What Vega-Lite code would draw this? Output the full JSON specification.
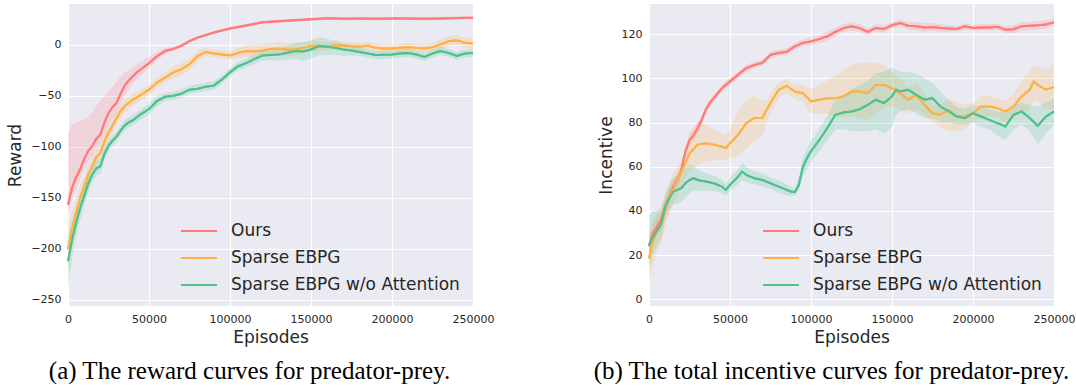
{
"$schema": "https://vega.github.io/schema/vega-lite/v6.json",
"padding": {"left": 6, "top": 4, "right": 0, "bottom": 0},
"background": "white",
"bounds": "flush",
"spacing": 176,
"config": {
  "view": {"fill": "#EAEAF2", "stroke": null},
  "axis": {"grid": true, "gridColor": "#FFFFFF", "gridWidth": 1.2, "domain": false, "ticks": false, "labelFont": "DejaVu Sans", "labelFontSize": 11, "labelColor": "#262626", "titleFont": "DejaVu Sans", "titleFontSize": 17, "titleFontWeight": "normal", "titleColor": "#262626", "labelPadding": 7}
},
"resolve": {"scale": {"color": "independent"}},
"datasets": {
"reward": [
{"s":"Ours","x":0,"m":-157,"lo":-168,"hi":-88},
{"s":"Ours","x":2500,"m":-140,"lo":-152,"hi":-78},
{"s":"Ours","x":5000,"m":-130,"lo":-141,"hi":-76},
{"s":"Ours","x":7500,"m":-122,"lo":-132,"hi":-75},
{"s":"Ours","x":10000,"m":-112,"lo":-122,"hi":-73},
{"s":"Ours","x":12500,"m":-104,"lo":-115,"hi":-70},
{"s":"Ours","x":15000,"m":-99,"lo":-109,"hi":-66},
{"s":"Ours","x":17500,"m":-92,"lo":-102,"hi":-60},
{"s":"Ours","x":20000,"m":-88,"lo":-97,"hi":-55},
{"s":"Ours","x":22500,"m":-76,"lo":-88,"hi":-50},
{"s":"Ours","x":25000,"m":-67,"lo":-78,"hi":-46},
{"s":"Ours","x":27500,"m":-61,"lo":-72,"hi":-41},
{"s":"Ours","x":30000,"m":-57,"lo":-67,"hi":-36},
{"s":"Ours","x":32500,"m":-48,"lo":-58,"hi":-31},
{"s":"Ours","x":35000,"m":-40,"lo":-50,"hi":-27},
{"s":"Ours","x":37500,"m":-35,"lo":-44,"hi":-25},
{"s":"Ours","x":40000,"m":-31,"lo":-38,"hi":-22},
{"s":"Ours","x":42500,"m":-27,"lo":-34,"hi":-19},
{"s":"Ours","x":45000,"m":-24,"lo":-30,"hi":-17},
{"s":"Ours","x":47500,"m":-21,"lo":-26,"hi":-14},
{"s":"Ours","x":50000,"m":-18,"lo":-23,"hi":-12},
{"s":"Ours","x":55000,"m":-11,"lo":-15,"hi":-7},
{"s":"Ours","x":60000,"m":-6,"lo":-9,"hi":-3},
{"s":"Ours","x":65000,"m":-4,"lo":-6,"hi":-2},
{"s":"Ours","x":70000,"m":-1,"lo":-3,"hi":1},
{"s":"Ours","x":75000,"m":3.6,"lo":2,"hi":5.5},
{"s":"Ours","x":80000,"m":7,"lo":5.5,"hi":8.5},
{"s":"Ours","x":85000,"m":9.5,"lo":8,"hi":11},
{"s":"Ours","x":90000,"m":12,"lo":10.5,"hi":13.5},
{"s":"Ours","x":95000,"m":14,"lo":12.5,"hi":15.5},
{"s":"Ours","x":100000,"m":16,"lo":14.5,"hi":17.5},
{"s":"Ours","x":110000,"m":19,"lo":17.5,"hi":20.5},
{"s":"Ours","x":120000,"m":22,"lo":20.5,"hi":23.5},
{"s":"Ours","x":130000,"m":23,"lo":21.5,"hi":24.5},
{"s":"Ours","x":140000,"m":24,"lo":22.5,"hi":25.5},
{"s":"Ours","x":150000,"m":25,"lo":23.5,"hi":26.5},
{"s":"Ours","x":160000,"m":26,"lo":24.5,"hi":27.5},
{"s":"Ours","x":170000,"m":25.5,"lo":24,"hi":27},
{"s":"Ours","x":180000,"m":25.7,"lo":24.2,"hi":27.2},
{"s":"Ours","x":190000,"m":25.6,"lo":24.1,"hi":27.1},
{"s":"Ours","x":200000,"m":25.8,"lo":24.3,"hi":27.3},
{"s":"Ours","x":210000,"m":25.7,"lo":24.2,"hi":27.2},
{"s":"Ours","x":220000,"m":25.5,"lo":24,"hi":27},
{"s":"Ours","x":230000,"m":25.9,"lo":24.4,"hi":27.4},
{"s":"Ours","x":240000,"m":26.2,"lo":24.7,"hi":27.7},
{"s":"Ours","x":250000,"m":26.5,"lo":25,"hi":28},
{"s":"Sparse EBPG","x":0,"m":-200,"lo":-225,"hi":-175},
{"s":"Sparse EBPG","x":2500,"m":-181,"lo":-199,"hi":-163},
{"s":"Sparse EBPG","x":5000,"m":-165,"lo":-179,"hi":-151},
{"s":"Sparse EBPG","x":7500,"m":-150,"lo":-162,"hi":-138},
{"s":"Sparse EBPG","x":10000,"m":-139,"lo":-149,"hi":-129},
{"s":"Sparse EBPG","x":12500,"m":-127,"lo":-136,"hi":-118},
{"s":"Sparse EBPG","x":15000,"m":-119,"lo":-128,"hi":-110},
{"s":"Sparse EBPG","x":17500,"m":-110,"lo":-118,"hi":-102},
{"s":"Sparse EBPG","x":20000,"m":-106,"lo":-114,"hi":-98},
{"s":"Sparse EBPG","x":22500,"m":-95,"lo":-103,"hi":-87},
{"s":"Sparse EBPG","x":25000,"m":-86,"lo":-93,"hi":-79},
{"s":"Sparse EBPG","x":27500,"m":-79,"lo":-86,"hi":-72},
{"s":"Sparse EBPG","x":30000,"m":-72,"lo":-79,"hi":-65},
{"s":"Sparse EBPG","x":32500,"m":-65,"lo":-71,"hi":-59},
{"s":"Sparse EBPG","x":35000,"m":-60,"lo":-66,"hi":-54},
{"s":"Sparse EBPG","x":37500,"m":-57,"lo":-63,"hi":-51},
{"s":"Sparse EBPG","x":40000,"m":-54,"lo":-60,"hi":-48},
{"s":"Sparse EBPG","x":45000,"m":-49,"lo":-54,"hi":-44},
{"s":"Sparse EBPG","x":50000,"m":-44,"lo":-49,"hi":-39},
{"s":"Sparse EBPG","x":55000,"m":-37,"lo":-42,"hi":-32},
{"s":"Sparse EBPG","x":60000,"m":-32,"lo":-37,"hi":-27},
{"s":"Sparse EBPG","x":65000,"m":-27,"lo":-33,"hi":-21},
{"s":"Sparse EBPG","x":70000,"m":-24,"lo":-30,"hi":-18},
{"s":"Sparse EBPG","x":75000,"m":-19,"lo":-25,"hi":-13},
{"s":"Sparse EBPG","x":80000,"m":-11,"lo":-16,"hi":-6},
{"s":"Sparse EBPG","x":85000,"m":-7,"lo":-11,"hi":-3},
{"s":"Sparse EBPG","x":90000,"m":-8.5,"lo":-12.5,"hi":-4.5},
{"s":"Sparse EBPG","x":95000,"m":-9.5,"lo":-13.5,"hi":-5.5},
{"s":"Sparse EBPG","x":100000,"m":-10.5,"lo":-14.5,"hi":-6.5},
{"s":"Sparse EBPG","x":105000,"m":-8,"lo":-13,"hi":-3},
{"s":"Sparse EBPG","x":110000,"m":-6,"lo":-12,"hi":0},
{"s":"Sparse EBPG","x":115000,"m":-6.5,"lo":-12.5,"hi":-0.5},
{"s":"Sparse EBPG","x":120000,"m":-5.5,"lo":-11.5,"hi":0.5},
{"s":"Sparse EBPG","x":125000,"m":-4,"lo":-10,"hi":2},
{"s":"Sparse EBPG","x":130000,"m":-3.6,"lo":-9.6,"hi":2.4},
{"s":"Sparse EBPG","x":135000,"m":-4.8,"lo":-10.8,"hi":1.2},
{"s":"Sparse EBPG","x":140000,"m":-4.5,"lo":-10.5,"hi":1.5},
{"s":"Sparse EBPG","x":145000,"m":-3,"lo":-8,"hi":2},
{"s":"Sparse EBPG","x":150000,"m":-1.3,"lo":-6.3,"hi":3.7},
{"s":"Sparse EBPG","x":155000,"m":-1,"lo":-6,"hi":4},
{"s":"Sparse EBPG","x":160000,"m":-1.6,"lo":-5.6,"hi":2.4},
{"s":"Sparse EBPG","x":165000,"m":-0.5,"lo":-4.5,"hi":3.5},
{"s":"Sparse EBPG","x":170000,"m":-0.7,"lo":-4.7,"hi":3.3},
{"s":"Sparse EBPG","x":175000,"m":-1.5,"lo":-5.5,"hi":2.5},
{"s":"Sparse EBPG","x":180000,"m":-2,"lo":-6,"hi":2},
{"s":"Sparse EBPG","x":185000,"m":-1,"lo":-5,"hi":3},
{"s":"Sparse EBPG","x":190000,"m":-3,"lo":-7,"hi":1},
{"s":"Sparse EBPG","x":195000,"m":-3.5,"lo":-7.5,"hi":0.5},
{"s":"Sparse EBPG","x":200000,"m":-3.6,"lo":-7.6,"hi":0.4},
{"s":"Sparse EBPG","x":205000,"m":-3,"lo":-7,"hi":1},
{"s":"Sparse EBPG","x":210000,"m":-2.3,"lo":-6.3,"hi":1.7},
{"s":"Sparse EBPG","x":215000,"m":-3,"lo":-7,"hi":1},
{"s":"Sparse EBPG","x":220000,"m":-3.6,"lo":-7.6,"hi":0.4},
{"s":"Sparse EBPG","x":225000,"m":-2.5,"lo":-6.5,"hi":1.5},
{"s":"Sparse EBPG","x":230000,"m":0.3,"lo":-4.7,"hi":5.3},
{"s":"Sparse EBPG","x":235000,"m":3.6,"lo":-1.4,"hi":8.6},
{"s":"Sparse EBPG","x":240000,"m":4.5,"lo":-0.5,"hi":9.5},
{"s":"Sparse EBPG","x":245000,"m":2,"lo":-3,"hi":7},
{"s":"Sparse EBPG","x":250000,"m":1.3,"lo":-4.7,"hi":7.3},
{"s":"Sparse EBPG w/o Attention","x":0,"m":-212,"lo":-237,"hi":-187},
{"s":"Sparse EBPG w/o Attention","x":2500,"m":-191,"lo":-209,"hi":-173},
{"s":"Sparse EBPG w/o Attention","x":5000,"m":-175,"lo":-189,"hi":-161},
{"s":"Sparse EBPG w/o Attention","x":7500,"m":-160,"lo":-172,"hi":-148},
{"s":"Sparse EBPG w/o Attention","x":10000,"m":-148,"lo":-158,"hi":-138},
{"s":"Sparse EBPG w/o Attention","x":12500,"m":-136,"lo":-145,"hi":-127},
{"s":"Sparse EBPG w/o Attention","x":15000,"m":-127,"lo":-135,"hi":-119},
{"s":"Sparse EBPG w/o Attention","x":17500,"m":-121,"lo":-128,"hi":-114},
{"s":"Sparse EBPG w/o Attention","x":20000,"m":-119,"lo":-126,"hi":-112},
{"s":"Sparse EBPG w/o Attention","x":22500,"m":-107,"lo":-113,"hi":-101},
{"s":"Sparse EBPG w/o Attention","x":25000,"m":-99,"lo":-105,"hi":-93},
{"s":"Sparse EBPG w/o Attention","x":27500,"m":-94,"lo":-99,"hi":-89},
{"s":"Sparse EBPG w/o Attention","x":30000,"m":-90,"lo":-95,"hi":-85},
{"s":"Sparse EBPG w/o Attention","x":32500,"m":-84,"lo":-89,"hi":-79},
{"s":"Sparse EBPG w/o Attention","x":35000,"m":-79,"lo":-84,"hi":-74},
{"s":"Sparse EBPG w/o Attention","x":37500,"m":-76,"lo":-81,"hi":-71},
{"s":"Sparse EBPG w/o Attention","x":40000,"m":-74,"lo":-79,"hi":-69},
{"s":"Sparse EBPG w/o Attention","x":45000,"m":-68,"lo":-73,"hi":-63},
{"s":"Sparse EBPG w/o Attention","x":50000,"m":-63,"lo":-68,"hi":-58},
{"s":"Sparse EBPG w/o Attention","x":55000,"m":-55,"lo":-60,"hi":-50},
{"s":"Sparse EBPG w/o Attention","x":60000,"m":-51,"lo":-55,"hi":-47},
{"s":"Sparse EBPG w/o Attention","x":65000,"m":-50,"lo":-54,"hi":-46},
{"s":"Sparse EBPG w/o Attention","x":70000,"m":-48,"lo":-52,"hi":-44},
{"s":"Sparse EBPG w/o Attention","x":75000,"m":-44,"lo":-48,"hi":-40},
{"s":"Sparse EBPG w/o Attention","x":80000,"m":-43,"lo":-47,"hi":-39},
{"s":"Sparse EBPG w/o Attention","x":85000,"m":-41,"lo":-45,"hi":-37},
{"s":"Sparse EBPG w/o Attention","x":90000,"m":-40,"lo":-44,"hi":-36},
{"s":"Sparse EBPG w/o Attention","x":95000,"m":-34,"lo":-38,"hi":-30},
{"s":"Sparse EBPG w/o Attention","x":100000,"m":-27,"lo":-31,"hi":-23},
{"s":"Sparse EBPG w/o Attention","x":105000,"m":-21,"lo":-25,"hi":-17},
{"s":"Sparse EBPG w/o Attention","x":110000,"m":-18,"lo":-22,"hi":-14},
{"s":"Sparse EBPG w/o Attention","x":115000,"m":-14,"lo":-19,"hi":-9},
{"s":"Sparse EBPG w/o Attention","x":120000,"m":-10.5,"lo":-15.5,"hi":-5.5},
{"s":"Sparse EBPG w/o Attention","x":125000,"m":-10,"lo":-15,"hi":-5},
{"s":"Sparse EBPG w/o Attention","x":130000,"m":-9.5,"lo":-15.5,"hi":-3.5},
{"s":"Sparse EBPG w/o Attention","x":135000,"m":-8,"lo":-15,"hi":-1},
{"s":"Sparse EBPG w/o Attention","x":140000,"m":-6,"lo":-14,"hi":2},
{"s":"Sparse EBPG w/o Attention","x":145000,"m":-6.5,"lo":-15.5,"hi":2.5},
{"s":"Sparse EBPG w/o Attention","x":150000,"m":-4.6,"lo":-13.6,"hi":4.4},
{"s":"Sparse EBPG w/o Attention","x":155000,"m":-1.3,"lo":-10.3,"hi":7.7},
{"s":"Sparse EBPG w/o Attention","x":160000,"m":-2,"lo":-10,"hi":6},
{"s":"Sparse EBPG w/o Attention","x":165000,"m":-3,"lo":-10,"hi":4},
{"s":"Sparse EBPG w/o Attention","x":170000,"m":-4.6,"lo":-10.6,"hi":1.4},
{"s":"Sparse EBPG w/o Attention","x":175000,"m":-5.5,"lo":-10.5,"hi":-0.5},
{"s":"Sparse EBPG w/o Attention","x":180000,"m":-7,"lo":-11,"hi":-3},
{"s":"Sparse EBPG w/o Attention","x":185000,"m":-8.5,"lo":-12.5,"hi":-4.5},
{"s":"Sparse EBPG w/o Attention","x":190000,"m":-10,"lo":-14,"hi":-6},
{"s":"Sparse EBPG w/o Attention","x":195000,"m":-9.8,"lo":-13.8,"hi":-5.8},
{"s":"Sparse EBPG w/o Attention","x":200000,"m":-9.5,"lo":-13.5,"hi":-5.5},
{"s":"Sparse EBPG w/o Attention","x":205000,"m":-8.5,"lo":-12.5,"hi":-4.5},
{"s":"Sparse EBPG w/o Attention","x":210000,"m":-8,"lo":-12,"hi":-4},
{"s":"Sparse EBPG w/o Attention","x":215000,"m":-9.5,"lo":-13.5,"hi":-5.5},
{"s":"Sparse EBPG w/o Attention","x":220000,"m":-11.8,"lo":-15.8,"hi":-7.8},
{"s":"Sparse EBPG w/o Attention","x":225000,"m":-8.5,"lo":-12.5,"hi":-4.5},
{"s":"Sparse EBPG w/o Attention","x":230000,"m":-6,"lo":-10,"hi":-2},
{"s":"Sparse EBPG w/o Attention","x":235000,"m":-8,"lo":-12,"hi":-4},
{"s":"Sparse EBPG w/o Attention","x":240000,"m":-11,"lo":-15,"hi":-7},
{"s":"Sparse EBPG w/o Attention","x":245000,"m":-8.5,"lo":-12.5,"hi":-4.5},
{"s":"Sparse EBPG w/o Attention","x":250000,"m":-8,"lo":-12,"hi":-4}
],
"incentive": [
{"s":"Ours","x":0,"m":24,"lo":19,"hi":29},
{"s":"Ours","x":2500,"m":30,"lo":25,"hi":34},
{"s":"Ours","x":5000,"m":33,"lo":29,"hi":37},
{"s":"Ours","x":7500,"m":36,"lo":32,"hi":40},
{"s":"Ours","x":10000,"m":42,"lo":38,"hi":46},
{"s":"Ours","x":12500,"m":46.5,"lo":43,"hi":50},
{"s":"Ours","x":15000,"m":51,"lo":48,"hi":54},
{"s":"Ours","x":17500,"m":54,"lo":51,"hi":57},
{"s":"Ours","x":20000,"m":58.6,"lo":56,"hi":61},
{"s":"Ours","x":22500,"m":67,"lo":64.5,"hi":69.5},
{"s":"Ours","x":25000,"m":72,"lo":69.5,"hi":74.5},
{"s":"Ours","x":27500,"m":74,"lo":71.5,"hi":76.5},
{"s":"Ours","x":30000,"m":77.4,"lo":75,"hi":80},
{"s":"Ours","x":32500,"m":81,"lo":79,"hi":83},
{"s":"Ours","x":35000,"m":85.7,"lo":84,"hi":87.5},
{"s":"Ours","x":37500,"m":88.8,"lo":87,"hi":90.5},
{"s":"Ours","x":40000,"m":91,"lo":89.5,"hi":92.5},
{"s":"Ours","x":45000,"m":95.5,"lo":94,"hi":97},
{"s":"Ours","x":50000,"m":98.6,"lo":97,"hi":100},
{"s":"Ours","x":55000,"m":101.6,"lo":100,"hi":103},
{"s":"Ours","x":60000,"m":104.6,"lo":103,"hi":106},
{"s":"Ours","x":65000,"m":106,"lo":104.5,"hi":107.5},
{"s":"Ours","x":70000,"m":107,"lo":105.5,"hi":108.5},
{"s":"Ours","x":75000,"m":110.6,"lo":109,"hi":112},
{"s":"Ours","x":80000,"m":111.4,"lo":110,"hi":113},
{"s":"Ours","x":85000,"m":112,"lo":110.5,"hi":113.5},
{"s":"Ours","x":90000,"m":114.4,"lo":113,"hi":116},
{"s":"Ours","x":95000,"m":116,"lo":114.5,"hi":117.5},
{"s":"Ours","x":100000,"m":116.7,"lo":115,"hi":118.5},
{"s":"Ours","x":105000,"m":117.7,"lo":116,"hi":119.5},
{"s":"Ours","x":110000,"m":119,"lo":117,"hi":121},
{"s":"Ours","x":115000,"m":121,"lo":119,"hi":123},
{"s":"Ours","x":120000,"m":122.7,"lo":121,"hi":124.5},
{"s":"Ours","x":125000,"m":123.5,"lo":121.5,"hi":125.5},
{"s":"Ours","x":130000,"m":122.7,"lo":121,"hi":124.5},
{"s":"Ours","x":135000,"m":121,"lo":119.5,"hi":122.5},
{"s":"Ours","x":140000,"m":122.7,"lo":121,"hi":124.5},
{"s":"Ours","x":145000,"m":122.3,"lo":120.5,"hi":124},
{"s":"Ours","x":150000,"m":124,"lo":122.5,"hi":125.5},
{"s":"Ours","x":155000,"m":125,"lo":123.5,"hi":126.5},
{"s":"Ours","x":160000,"m":123.8,"lo":122,"hi":125.5},
{"s":"Ours","x":165000,"m":123.5,"lo":121.5,"hi":125.5},
{"s":"Ours","x":170000,"m":123,"lo":121,"hi":125},
{"s":"Ours","x":175000,"m":123.2,"lo":121.5,"hi":125},
{"s":"Ours","x":180000,"m":122.7,"lo":121,"hi":124.5},
{"s":"Ours","x":185000,"m":122.5,"lo":121,"hi":124},
{"s":"Ours","x":190000,"m":122.3,"lo":121,"hi":123.5},
{"s":"Ours","x":195000,"m":123.5,"lo":122,"hi":125},
{"s":"Ours","x":200000,"m":122.7,"lo":121.5,"hi":124},
{"s":"Ours","x":205000,"m":123,"lo":121.5,"hi":124.5},
{"s":"Ours","x":210000,"m":123,"lo":121.5,"hi":124.5},
{"s":"Ours","x":215000,"m":123.3,"lo":122,"hi":124.5},
{"s":"Ours","x":220000,"m":122,"lo":120.5,"hi":123.5},
{"s":"Ours","x":225000,"m":122.2,"lo":120.5,"hi":124},
{"s":"Ours","x":230000,"m":123.5,"lo":121.5,"hi":125.5},
{"s":"Ours","x":235000,"m":123.8,"lo":122,"hi":125.5},
{"s":"Ours","x":240000,"m":124,"lo":122,"hi":126},
{"s":"Ours","x":245000,"m":124.3,"lo":122.5,"hi":126},
{"s":"Ours","x":250000,"m":125.3,"lo":123.5,"hi":127},
{"s":"Sparse EBPG","x":0,"m":18.5,"lo":8,"hi":30},
{"s":"Sparse EBPG","x":2500,"m":27,"lo":15,"hi":36},
{"s":"Sparse EBPG","x":5000,"m":31,"lo":22,"hi":40},
{"s":"Sparse EBPG","x":7500,"m":34,"lo":26,"hi":42},
{"s":"Sparse EBPG","x":10000,"m":40,"lo":32,"hi":47},
{"s":"Sparse EBPG","x":12500,"m":46.5,"lo":39,"hi":53},
{"s":"Sparse EBPG","x":15000,"m":50,"lo":43,"hi":57},
{"s":"Sparse EBPG","x":17500,"m":54,"lo":47,"hi":60},
{"s":"Sparse EBPG","x":20000,"m":58,"lo":51,"hi":63},
{"s":"Sparse EBPG","x":22500,"m":61.6,"lo":55,"hi":68},
{"s":"Sparse EBPG","x":25000,"m":66,"lo":58,"hi":75},
{"s":"Sparse EBPG","x":27500,"m":68,"lo":59,"hi":78},
{"s":"Sparse EBPG","x":30000,"m":70,"lo":61,"hi":80},
{"s":"Sparse EBPG","x":35000,"m":70.6,"lo":62,"hi":79},
{"s":"Sparse EBPG","x":40000,"m":70,"lo":63,"hi":77},
{"s":"Sparse EBPG","x":45000,"m":69,"lo":63,"hi":75},
{"s":"Sparse EBPG","x":47500,"m":68.4,"lo":63,"hi":74},
{"s":"Sparse EBPG","x":50000,"m":70.6,"lo":64,"hi":77},
{"s":"Sparse EBPG","x":55000,"m":74.4,"lo":65,"hi":85},
{"s":"Sparse EBPG","x":60000,"m":79.7,"lo":68,"hi":90},
{"s":"Sparse EBPG","x":65000,"m":82,"lo":72,"hi":92},
{"s":"Sparse EBPG","x":70000,"m":82,"lo":74,"hi":90},
{"s":"Sparse EBPG","x":72500,"m":85.7,"lo":80,"hi":90},
{"s":"Sparse EBPG","x":75000,"m":88.8,"lo":84,"hi":93},
{"s":"Sparse EBPG","x":80000,"m":94.8,"lo":91,"hi":98},
{"s":"Sparse EBPG","x":85000,"m":96.6,"lo":93,"hi":100},
{"s":"Sparse EBPG","x":90000,"m":94,"lo":91,"hi":97},
{"s":"Sparse EBPG","x":95000,"m":93.3,"lo":89,"hi":97},
{"s":"Sparse EBPG","x":100000,"m":89.5,"lo":84,"hi":95},
{"s":"Sparse EBPG","x":105000,"m":90.3,"lo":84,"hi":97},
{"s":"Sparse EBPG","x":110000,"m":91,"lo":84,"hi":99},
{"s":"Sparse EBPG","x":115000,"m":91,"lo":83,"hi":101},
{"s":"Sparse EBPG","x":120000,"m":91.8,"lo":82,"hi":104},
{"s":"Sparse EBPG","x":125000,"m":94,"lo":83,"hi":106},
{"s":"Sparse EBPG","x":130000,"m":94,"lo":82,"hi":107},
{"s":"Sparse EBPG","x":135000,"m":93.3,"lo":81,"hi":107},
{"s":"Sparse EBPG","x":140000,"m":97,"lo":84,"hi":107},
{"s":"Sparse EBPG","x":145000,"m":97,"lo":87,"hi":106},
{"s":"Sparse EBPG","x":150000,"m":95.5,"lo":87,"hi":103},
{"s":"Sparse EBPG","x":155000,"m":93.3,"lo":86,"hi":100},
{"s":"Sparse EBPG","x":160000,"m":90.3,"lo":84,"hi":96},
{"s":"Sparse EBPG","x":165000,"m":92.5,"lo":86,"hi":98},
{"s":"Sparse EBPG","x":170000,"m":88,"lo":83,"hi":93},
{"s":"Sparse EBPG","x":175000,"m":84.2,"lo":80,"hi":88},
{"s":"Sparse EBPG","x":180000,"m":83.5,"lo":78,"hi":88},
{"s":"Sparse EBPG","x":185000,"m":85.7,"lo":76,"hi":91},
{"s":"Sparse EBPG","x":190000,"m":82.7,"lo":76,"hi":89},
{"s":"Sparse EBPG","x":195000,"m":82.7,"lo":77,"hi":88},
{"s":"Sparse EBPG","x":200000,"m":84.2,"lo":80,"hi":89},
{"s":"Sparse EBPG","x":205000,"m":87.2,"lo":82,"hi":92},
{"s":"Sparse EBPG","x":210000,"m":87.2,"lo":83,"hi":92},
{"s":"Sparse EBPG","x":215000,"m":86.5,"lo":82,"hi":91},
{"s":"Sparse EBPG","x":220000,"m":85,"lo":80,"hi":90},
{"s":"Sparse EBPG","x":225000,"m":87.2,"lo":82,"hi":93},
{"s":"Sparse EBPG","x":230000,"m":91.8,"lo":84,"hi":99},
{"s":"Sparse EBPG","x":235000,"m":94.8,"lo":86,"hi":103},
{"s":"Sparse EBPG","x":237500,"m":98.6,"lo":90,"hi":106},
{"s":"Sparse EBPG","x":240000,"m":97,"lo":89,"hi":105},
{"s":"Sparse EBPG","x":245000,"m":94.8,"lo":86,"hi":104},
{"s":"Sparse EBPG","x":250000,"m":96,"lo":86,"hi":107},
{"s":"Sparse EBPG w/o Attention","x":0,"m":24.6,"lo":14,"hi":38},
{"s":"Sparse EBPG w/o Attention","x":2500,"m":28.4,"lo":20,"hi":40},
{"s":"Sparse EBPG w/o Attention","x":5000,"m":31,"lo":24,"hi":40},
{"s":"Sparse EBPG w/o Attention","x":7500,"m":34,"lo":27,"hi":41},
{"s":"Sparse EBPG w/o Attention","x":10000,"m":42,"lo":36,"hi":48},
{"s":"Sparse EBPG w/o Attention","x":12500,"m":45.7,"lo":40,"hi":52},
{"s":"Sparse EBPG w/o Attention","x":15000,"m":48.8,"lo":43,"hi":55},
{"s":"Sparse EBPG w/o Attention","x":17500,"m":49.5,"lo":43,"hi":56},
{"s":"Sparse EBPG w/o Attention","x":20000,"m":50.3,"lo":44,"hi":58},
{"s":"Sparse EBPG w/o Attention","x":22500,"m":52.5,"lo":46,"hi":60},
{"s":"Sparse EBPG w/o Attention","x":25000,"m":54,"lo":48,"hi":61},
{"s":"Sparse EBPG w/o Attention","x":27500,"m":54.8,"lo":49,"hi":60},
{"s":"Sparse EBPG w/o Attention","x":30000,"m":54,"lo":49,"hi":59},
{"s":"Sparse EBPG w/o Attention","x":35000,"m":53.3,"lo":49,"hi":57},
{"s":"Sparse EBPG w/o Attention","x":40000,"m":52.5,"lo":49,"hi":56},
{"s":"Sparse EBPG w/o Attention","x":45000,"m":51,"lo":48,"hi":54},
{"s":"Sparse EBPG w/o Attention","x":47500,"m":49.5,"lo":47,"hi":52},
{"s":"Sparse EBPG w/o Attention","x":50000,"m":51.8,"lo":49,"hi":55},
{"s":"Sparse EBPG w/o Attention","x":55000,"m":55.5,"lo":52,"hi":59},
{"s":"Sparse EBPG w/o Attention","x":57500,"m":57.8,"lo":54,"hi":62},
{"s":"Sparse EBPG w/o Attention","x":60000,"m":56.3,"lo":53,"hi":60},
{"s":"Sparse EBPG w/o Attention","x":65000,"m":54.8,"lo":52,"hi":58},
{"s":"Sparse EBPG w/o Attention","x":70000,"m":54,"lo":51,"hi":57},
{"s":"Sparse EBPG w/o Attention","x":75000,"m":52.5,"lo":50,"hi":55},
{"s":"Sparse EBPG w/o Attention","x":80000,"m":51,"lo":48,"hi":54},
{"s":"Sparse EBPG w/o Attention","x":85000,"m":49.5,"lo":47,"hi":52},
{"s":"Sparse EBPG w/o Attention","x":87500,"m":48.8,"lo":47,"hi":51},
{"s":"Sparse EBPG w/o Attention","x":90000,"m":48.5,"lo":47,"hi":50},
{"s":"Sparse EBPG w/o Attention","x":92500,"m":51.8,"lo":49,"hi":55},
{"s":"Sparse EBPG w/o Attention","x":95000,"m":60,"lo":56,"hi":64},
{"s":"Sparse EBPG w/o Attention","x":97500,"m":63.8,"lo":59,"hi":68},
{"s":"Sparse EBPG w/o Attention","x":100000,"m":67,"lo":62,"hi":72},
{"s":"Sparse EBPG w/o Attention","x":105000,"m":72,"lo":67,"hi":77},
{"s":"Sparse EBPG w/o Attention","x":110000,"m":77.4,"lo":72,"hi":83},
{"s":"Sparse EBPG w/o Attention","x":115000,"m":83.5,"lo":77,"hi":90},
{"s":"Sparse EBPG w/o Attention","x":120000,"m":84.5,"lo":77,"hi":92},
{"s":"Sparse EBPG w/o Attention","x":125000,"m":85,"lo":76,"hi":95},
{"s":"Sparse EBPG w/o Attention","x":130000,"m":86,"lo":76,"hi":97},
{"s":"Sparse EBPG w/o Attention","x":135000,"m":88,"lo":76,"hi":99},
{"s":"Sparse EBPG w/o Attention","x":140000,"m":90.3,"lo":77,"hi":102},
{"s":"Sparse EBPG w/o Attention","x":145000,"m":88.8,"lo":75,"hi":103},
{"s":"Sparse EBPG w/o Attention","x":150000,"m":91.8,"lo":78,"hi":105},
{"s":"Sparse EBPG w/o Attention","x":152500,"m":94.8,"lo":83,"hi":104},
{"s":"Sparse EBPG w/o Attention","x":155000,"m":94,"lo":85,"hi":103},
{"s":"Sparse EBPG w/o Attention","x":160000,"m":94.8,"lo":86,"hi":103},
{"s":"Sparse EBPG w/o Attention","x":165000,"m":92.5,"lo":84,"hi":102},
{"s":"Sparse EBPG w/o Attention","x":170000,"m":90.3,"lo":82,"hi":100},
{"s":"Sparse EBPG w/o Attention","x":175000,"m":91,"lo":82,"hi":98},
{"s":"Sparse EBPG w/o Attention","x":180000,"m":87.2,"lo":80,"hi":94},
{"s":"Sparse EBPG w/o Attention","x":185000,"m":85,"lo":80,"hi":90},
{"s":"Sparse EBPG w/o Attention","x":190000,"m":82.7,"lo":79,"hi":87},
{"s":"Sparse EBPG w/o Attention","x":195000,"m":82,"lo":79,"hi":86},
{"s":"Sparse EBPG w/o Attention","x":200000,"m":84.2,"lo":80,"hi":88},
{"s":"Sparse EBPG w/o Attention","x":205000,"m":82.7,"lo":78,"hi":87},
{"s":"Sparse EBPG w/o Attention","x":210000,"m":81.2,"lo":77,"hi":86},
{"s":"Sparse EBPG w/o Attention","x":215000,"m":79.7,"lo":74,"hi":85},
{"s":"Sparse EBPG w/o Attention","x":220000,"m":78.2,"lo":72,"hi":85},
{"s":"Sparse EBPG w/o Attention","x":225000,"m":83.5,"lo":77,"hi":88},
{"s":"Sparse EBPG w/o Attention","x":230000,"m":85,"lo":79,"hi":89},
{"s":"Sparse EBPG w/o Attention","x":235000,"m":82,"lo":76,"hi":88},
{"s":"Sparse EBPG w/o Attention","x":240000,"m":78.5,"lo":70,"hi":87},
{"s":"Sparse EBPG w/o Attention","x":245000,"m":82.7,"lo":75,"hi":89},
{"s":"Sparse EBPG w/o Attention","x":250000,"m":85,"lo":79,"hi":91}
]
},
"hconcat": [
{
  "width": 405, "height": 302,
  "data": {"name": "reward"},
  "title": {"text": "(a) The reward curves for predator-prey.", "orient": "bottom", "font": "Liberation Serif", "fontSize": 25, "fontWeight": "normal", "color": "#000000", "offset": 14, "anchor": "middle", "dx": -21},
  "encoding": {
    "x": {"field": "x", "type": "quantitative", "scale": {"domain": [0, 250000], "nice": false}, "axis": {"title": "Episodes", "values": [0, 50000, 100000, 150000, 200000, 250000], "format": "d", "labelFlush": false, "titlePadding": 5}}
  },
  "layer": [
    {"mark": {"type": "line", "strokeWidth": 2},
     "encoding": {
       "y": {"field": "m", "type": "quantitative", "scale": {"domain": [-256, 40], "nice": false}, "axis": {"title": "Reward", "values": [-250, -200, -150, -100, -50, 0], "titlePadding": 6}},
       "color": {"field": "s", "type": "nominal", "scale": {"domain": ["Ours", "Sparse EBPG", "Sparse EBPG w/o Attention"], "range": ["#FF7B7B", "#FFB145", "#4CC28F"]}, "legend": {"orient": "none", "legendX": 112, "legendY": 208, "title": null, "labelFont": "DejaVu Sans", "labelFontSize": 17, "labelColor": "#262626", "labelLimit": 0, "symbolType": "stroke", "symbolSize": 1296, "symbolStrokeWidth": 2, "labelOffset": 13, "rowPadding": -1.5, "padding": 0}}
     }},
    {"mark": {"type": "area", "opacity": 0.2},
     "encoding": {
       "y": {"field": "lo", "type": "quantitative", "stack": null},
       "y2": {"field": "hi"},
       "color": {"field": "s", "type": "nominal", "legend": null}
     }},
    {"mark": {"type": "line", "strokeWidth": 2},
     "encoding": {
       "y": {"field": "m", "type": "quantitative"},
       "color": {"field": "s", "type": "nominal", "legend": null}
     }}
  ]
},
{
  "width": 405, "height": 302,
  "data": {"name": "incentive"},
  "title": {"text": "(b) The total incentive curves for predator-prey.", "orient": "bottom", "font": "Liberation Serif", "fontSize": 25, "fontWeight": "normal", "color": "#000000", "offset": 14, "anchor": "middle", "dx": -20},
  "encoding": {
    "x": {"field": "x", "type": "quantitative", "scale": {"domain": [0, 250000], "nice": false}, "axis": {"title": "Episodes", "values": [0, 50000, 100000, 150000, 200000, 250000], "format": "d", "labelFlush": false, "titlePadding": 5}}
  },
  "layer": [
    {"mark": {"type": "line", "strokeWidth": 2},
     "encoding": {
       "y": {"field": "m", "type": "quantitative", "scale": {"domain": [-3, 133.6], "nice": false}, "axis": {"title": "Incentive", "values": [0, 20, 40, 60, 80, 100, 120], "titlePadding": 6}},
       "color": {"field": "s", "type": "nominal", "scale": {"domain": ["Ours", "Sparse EBPG", "Sparse EBPG w/o Attention"], "range": ["#FF7B7B", "#FFB145", "#4CC28F"]}, "legend": {"orient": "none", "legendX": 113, "legendY": 208, "title": null, "labelFont": "DejaVu Sans", "labelFontSize": 17, "labelColor": "#262626", "labelLimit": 0, "symbolType": "stroke", "symbolSize": 1296, "symbolStrokeWidth": 2, "labelOffset": 13, "rowPadding": -1.5, "padding": 0}}
     }},
    {"mark": {"type": "area", "opacity": 0.2},
     "encoding": {
       "y": {"field": "lo", "type": "quantitative", "stack": null},
       "y2": {"field": "hi"},
       "color": {"field": "s", "type": "nominal", "legend": null}
     }},
    {"mark": {"type": "line", "strokeWidth": 2},
     "encoding": {
       "y": {"field": "m", "type": "quantitative"},
       "color": {"field": "s", "type": "nominal", "legend": null}
     }}
  ]
}
]
}
